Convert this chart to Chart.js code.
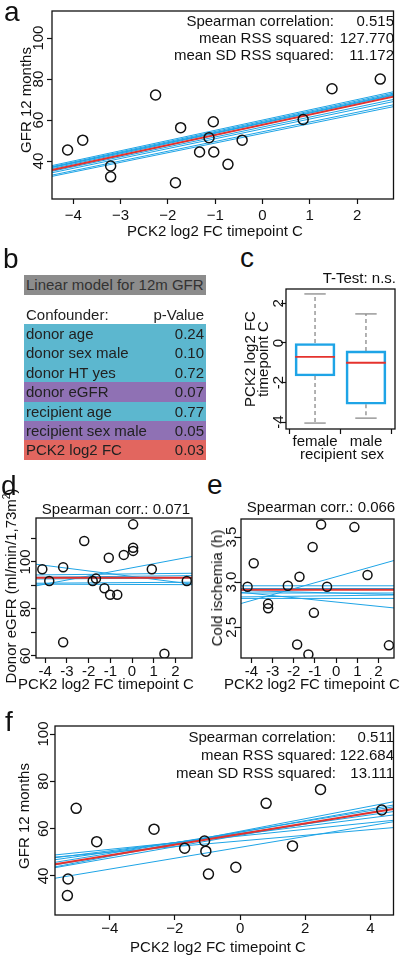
<!DOCTYPE html>
<html lang="en">
<head>
<meta charset="UTF-8">
<title>PCK2 log2 FC and graft function</title>
<script src="https://cdn.jsdelivr.net/npm/chart.js"></script>
<style>
  body {
    margin: 0;
    width: 400px;
    height: 956px;
    position: relative;
    overflow: hidden;
    background: #fff;
    font-family: "Liberation Sans", Arial, sans-serif;
    font-size: 15px;
    color: #111;
  }
  canvas, .t, .cell { position: absolute; }
  .t { white-space: nowrap; line-height: 18px; }
  .panel { font-size: 28px; line-height: 28px; }
  .cell { box-sizing: border-box; padding: 0 2px; line-height: 19px; color: #222; white-space: nowrap; }
  .cell span { float: right; }
</style>
</head>
<body>
<canvas id="chartA"></canvas>
<canvas id="chartC"></canvas>
<canvas id="chartD"></canvas>
<canvas id="chartE"></canvas>
<canvas id="chartF"></canvas>

<script>
// ---- panel a: GFR 12 months vs PCK2 log2 FC ----
var aX = [-4.12, -3.80, -3.21, -3.21, -2.26, -1.84, -1.73, -1.33, -1.13, -1.04, -1.03, -0.73, -0.43, 0.86, 1.47, 2.49];
var aY = [45.4, 50.2, 37.6, 32.3, 72.2, 29.4, 56.3, 44.4, 51.4, 59.2, 44.4, 38.4, 50.2, 60.3, 75.3, 80.0];
var aFit = [57.7, 4.96];               // intercept, slope
var aCvIntercepts = [60.0, 59.4, 58.9, 58.5, 57.7, 55.7, 54.3, 53.5, 58.6, 56.6];
var aCvSlopes = [4.99, 4.97, 4.96, 4.99, 4.99, 4.81, 4.75, 4.71, 4.85, 4.85];
var aStatNames = ['Spearman correlation:', 'mean RSS squared:', 'mean SD RSS squared:'];
var aStatValues = ['0.515', '127.770', '11.172'];
var aXTicks = [-4, -3, -2, -1, 0, 1, 2];
var aXLabels = ['\u22124', '\u22123', '\u22122', '\u22121', '0', '1', '2'];
var aYTicks = [40, 60, 80, 100];
var aYLabels = ['40', '60', '80', '100'];

// ---- panel b: linear model table ----
var bConfounders = ['donor age', 'donor sex male', 'donor HT yes', 'donor eGFR', 'recipient age', 'recipient sex male', 'PCK2 log2 FC'];
var bPValues = ['0.24', '0.10', '0.72', '0.07', '0.77', '0.05', '0.03'];
var bLevels = ['ns', 'ns', 'ns', 'trend', 'ns', 'trend', 'sig'];

// ---- panel c: boxplot by recipient sex ----
var cGroups = ['female', 'male'];
var cWhiskerLow = [-4.05, -3.80];
var cQ1 = [-1.67, -3.10];
var cMedian = [-0.70, -1.00];
var cQ3 = [0.00, -0.40];
var cWhiskerHigh = [2.48, 1.47];
var cYTicks = [-4, -2, 0, 2];
var cYLabels = ['-4', '-2', '0', '2'];

// ---- panel d: donor eGFR ----
var dX = [-4.13, -3.81, -3.17, -3.17, -2.20, -1.81, -1.66, -1.27, -1.07, -1.01, -0.68, -0.38, 0.05, 0.05, 0.05, 0.91, 1.49, 2.52];
var dY = [96.9, 91.9, 97.7, 65.8, 108.9, 91.9, 92.9, 88.8, 101.8, 86.0, 86.0, 103.0, 116.0, 106.0, 104.7, 96.9, 60.9, 91.9];
var dFit = [93.3, 0];
var dCvIntercepts = [93.8, 97.5, 94.9, 93.9, 93.0, 91.2, 90.4];
var dCvSlopes = [-1.18, 1.74, 0.10, 0.10, 0.06, 0.06, -0.03];
var dYTicks = [60, 70, 80, 90, 100, 110];
var dYLabels = ['60', '', '80', '', '100', ''];

// ---- panel e: cold ischemia ----
var eX = [-4.18, -3.89, -3.21, -3.21, -2.28, -1.84, -1.73, -1.31, -1.11, -1.05, -0.71, -0.43, 0.86, 1.48, 2.49];
var eY = [2.95, 3.21, 2.76, 2.71, 2.96, 2.31, 3.06, 2.20, 3.39, 2.66, 3.64, 2.95, 3.61, 3.08, 2.30];
var eFit = [2.915, 0];
var eCvIntercepts = [3.06, 2.78, 2.96, 2.93, 2.88, 2.85, 2.82, 2.88];
var eCvSlopes = [0.066, -0.024, 0, 0, 0, 0.003, 0, -0.006];
var eYTicks = [2.5, 3.0, 3.5];
var eYLabels = ['2.5', '3.0', '3.5'];

// shared x ticks for d and e
var deXTicks = [-4, -3, -2, -1, 0, 1, 2];
var deXLabels = ['-4', '-3', '-2', '-1', '0', '1', '2'];

// ---- panel f: GFR 12 months, second cohort ----
var fX = [-5.30, -5.28, -5.03, -4.40, -2.64, -1.70, -1.09, -1.05, -0.97, -0.13, 0.80, 1.61, 2.47, 4.35];
var fY = [31.7, 38.7, 68.6, 54.5, 59.8, 51.7, 54.8, 50.5, 40.8, 43.7, 70.7, 52.7, 76.6, 67.9];
var fFit = [57.7, 2.25];
var fCvIntercepts = [56.9, 54.8, 57.6, 58.0, 58.6, 58.5, 58.9, 57.2, 52.1];
var fCvSlopes = [1.41, 1.20, 1.74, 1.96, 2.26, 2.44, 2.65, 2.41, 2.30];
var fStatValues = ['0.511', '122.684', '13.111'];
var fXTicks = [-4, -2, 0, 2, 4];
var fXLabels = ['\u22124', '\u22122', '0', '2', '4'];

var INK = '#111';
var BLUE = '#1ea4e6';
var RED = '#e5322d';
var GREY = '#8a8a8a';
var LEVEL_COLORS = { ns: '#5cb7cf', trend: '#8f71b4', sig: '#e2665f' };
var FONT = '"Liberation Sans", Arial, sans-serif';

Chart.defaults.font.family = FONT;
Chart.defaults.font.size = 15;
Chart.defaults.color = INK;
Chart.defaults.animation = false;

// box around the plot region (R style)
var framePlugin = {
    id: 'frame',
    afterDraw: function(chart) {
        var a = chart.chartArea, ctx = chart.ctx;
        ctx.save();
        ctx.strokeStyle = INK;
        ctx.lineWidth = 1.3;
        ctx.strokeRect(a.left, a.top, a.right - a.left, a.bottom - a.top);
        ctx.restore();
    }
};

// y tick labels rotated parallel to the axis
var yTickPlugin = {
    id: 'yTicks',
    afterDraw: function(chart, args, opts) {
        var s = chart.scales.y, ctx = chart.ctx;
        ctx.save();
        ctx.font = '15px ' + FONT;
        ctx.fillStyle = INK;
        ctx.textAlign = 'center';
        ctx.textBaseline = 'middle';
        s.ticks.forEach(function(t, i) {
            var lab = opts.labels[i];
            if (!lab) return;
            ctx.save();
            ctx.translate(chart.chartArea.left - opts.gap, s.getPixelForValue(t.value));
            ctx.rotate(-Math.PI / 2);
            ctx.fillText(lab, 0, 0);
            ctx.restore();
        });
        ctx.restore();
    }
};

function placeCanvas(id, pos) {
    var cv = document.getElementById(id);
    cv.width = pos.w;
    cv.height = pos.h;
    cv.style.left = pos.x + 'px';
    cv.style.top = pos.y + 'px';
    cv.style.width = pos.w + 'px';
    cv.style.height = pos.h + 'px';
    return cv;
}

function axes(pos, box, o) {
    return {
        x: {
            type: 'linear', min: o.xMin, max: o.xMax, offset: false,
            afterBuildTicks: function(s) { s.ticks = o.xTicks.map(function(v) { return {value: v}; }); },
            afterFit: function(s) { s.height = pos.y + pos.h - box.b; },
            ticks: {
                autoSkip: false, maxRotation: 0, padding: o.xTickPad, color: INK,
                callback: function(v, i) { return o.xLabels[i]; }
            },
            grid: { drawOnChartArea: false, tickLength: 5, color: INK, tickColor: INK, tickWidth: 1.2 },
            border: { display: false }
        },
        y: {
            type: 'linear', min: o.yMin, max: o.yMax, beginAtZero: false,
            afterBuildTicks: function(s) { s.ticks = o.yTicks.map(function(v) { return {value: v}; }); },
            afterFit: function(s) { s.width = box.l - pos.x; },
            ticks: { display: false },
            grid: { drawOnChartArea: false, tickLength: 5, color: INK, tickColor: INK, tickWidth: 1.2 },
            border: { display: false }
        }
    };
}

function layoutFor(pos, box) {
    return { padding: { left: 0, top: box.t - pos.y, right: pos.x + pos.w - box.r, bottom: 0 } };
}

function fitLine(ic, sl, o, color, width) {
    return {
        type: 'scatter', showLine: true,
        data: [{x: o.xMin, y: ic + sl * o.xMin}, {x: o.xMax, y: ic + sl * o.xMax}],
        borderColor: color, borderWidth: width, pointRadius: 0, fill: false
    };
}

function scatterPanel(id, pos, box, o) {
    var cv = placeCanvas(id, pos);
    var datasets = [];
    var pts = o.xs.map(function(x, i) { return {x: x, y: o.ys[i]}; });
    datasets.push({
        type: 'scatter', data: pts, order: 0,
        pointStyle: 'circle', pointRadius: o.r, pointBorderWidth: 1.5,
        pointBorderColor: INK, pointBackgroundColor: 'rgba(0,0,0,0)'
    });
    var red = fitLine(o.fit[0], o.fit[1], o, RED, 2);
    red.order = 1;
    datasets.push(red);
    o.cvI.forEach(function(ic, i) {
        var d = fitLine(ic, o.cvS[i], o, BLUE, 1);
        d.order = 2;
        datasets.push(d);
    });
    return new Chart(cv, {
        type: 'scatter',
        data: { datasets: datasets },
        options: {
            responsive: false,
            layout: layoutFor(pos, box),
            plugins: { legend: { display: false }, tooltip: { enabled: false },
                       yTicks: { labels: o.yLabels, gap: o.gap } },
            scales: axes(pos, box, o)
        },
        plugins: [framePlugin, yTickPlugin]
    });
}

// panel a
scatterPanel('chartA', {x: 0, y: 0, w: 400, h: 240}, {l: 52, t: 11, r: 396, b: 199}, {
    xs: aX, ys: aY, fit: aFit, cvI: aCvIntercepts, cvS: aCvSlopes, r: 5,
    xMin: -4.45, xMax: 2.77, yMin: 21.5, yMax: 113.2,
    xTicks: aXTicks, xLabels: aXLabels, yTicks: aYTicks, yLabels: aYLabels,
    xTickPad: 3, gap: 13
});

// panel d
scatterPanel('chartD', {x: 0, y: 505, w: 200, h: 180}, {l: 36, t: 518, r: 192, b: 658}, {
    xs: dX, ys: dY, fit: dFit, cvI: dCvIntercepts, cvS: dCvSlopes, r: 4.5,
    xMin: -4.42, xMax: 2.76, yMin: 59.1, yMax: 118.7,
    xTicks: deXTicks, xLabels: deXLabels, yTicks: dYTicks, yLabels: dYLabels,
    xTickPad: 0, gap: 10
});

// panel e
scatterPanel('chartE', {x: 200, y: 505, w: 200, h: 180}, {l: 241, t: 519, r: 397, b: 658}, {
    xs: eX, ys: eY, fit: eFit, cvI: eCvIntercepts, cvS: eCvSlopes, r: 4.5,
    xMin: -4.49, xMax: 2.73, yMin: 2.16, yMax: 3.70,
    xTicks: deXTicks, xLabels: deXLabels, yTicks: eYTicks, yLabels: eYLabels,
    xTickPad: 0, gap: 9
});

// panel f
scatterPanel('chartF', {x: 0, y: 715, w: 400, h: 230}, {l: 55, t: 726, r: 397, b: 915}, {
    xs: fX, ys: fY, fit: fFit, cvI: fCvIntercepts, cvS: fCvSlopes, r: 5,
    xMin: -5.68, xMax: 4.71, yMin: 23.5, yMax: 103.4,
    xTicks: fXTicks, xLabels: fXLabels, yTicks: aYTicks, yLabels: aYLabels,
    xTickPad: 0, gap: 11
});

// panel c: boxplot
(function() {
    var pos = {x: 230, y: 280, w: 170, h: 180};
    var box = {l: 286, t: 289, r: 395, b: 429};
    var o = {
        xMin: 0.43, xMax: 2.57, yMin: -4.35, yMax: 2.73,
        xTicks: [1, 2], xLabels: cGroups, yTicks: cYTicks, xTickPad: -1
    };
    var BOX_HALF = 0.39, CAP_HALF = 0.21;
    var cv = placeCanvas('chartC', pos);
    var datasets = [{
        type: 'bar', order: 2,
        data: cGroups.map(function(g, i) { return {x: i + 1, y: [cQ1[i], cQ3[i]]}; }),
        backgroundColor: 'rgba(0,0,0,0)', borderColor: BLUE, borderWidth: 2,
        borderSkipped: false, barThickness: 40
    }];
    function seg(pts, color, dash, width) {
        return { type: 'scatter', showLine: true, data: pts, order: 1,
                 borderColor: color, borderWidth: width, borderDash: dash, pointRadius: 0 };
    }
    cGroups.forEach(function(g, i) {
        var x = i + 1;
        datasets.push(seg([{x: x, y: cQ3[i]}, {x: x, y: cWhiskerHigh[i]}], GREY, [4, 3], 1.3));
        datasets.push(seg([{x: x, y: cQ1[i]}, {x: x, y: cWhiskerLow[i]}], GREY, [4, 3], 1.3));
        datasets.push(seg([{x: x - CAP_HALF, y: cWhiskerHigh[i]}, {x: x + CAP_HALF, y: cWhiskerHigh[i]}], GREY, [], 1.3));
        datasets.push(seg([{x: x - CAP_HALF, y: cWhiskerLow[i]}, {x: x + CAP_HALF, y: cWhiskerLow[i]}], GREY, [], 1.3));
        var med = seg([{x: x - BOX_HALF, y: cMedian[i]}, {x: x + BOX_HALF, y: cMedian[i]}], RED, [], 1.8);
        med.order = 0;
        datasets.push(med);
    });
    new Chart(cv, {
        type: 'scatter',
        data: { datasets: datasets },
        options: {
            responsive: false,
            layout: layoutFor(pos, box),
            plugins: { legend: { display: false }, tooltip: { enabled: false },
                       yTicks: { labels: cYLabels, gap: 7 } },
            scales: axes(pos, box, o)
        },
        plugins: [framePlugin, yTickPlugin]
    });
})();

// ---- text: panel letters, titles, axis titles ----
function addText(str, x, y, align, extra) {
    var d = document.createElement('div');
    d.className = 't' + (extra ? ' ' + extra : '');
    d.innerHTML = str;
    d.style.left = x + 'px';
    d.style.top = y + 'px';
    var tr = { c: 'translate(-50%,-50%)', r: 'translate(-100%,-50%)', l: 'translate(0,-50%)',
               v: 'translate(-50%,-50%) rotate(-90deg)' };
    d.style.transform = tr[align];
    document.body.appendChild(d);
    return d;
}

addText('a', 4, 12, 'l', 'panel');
addText('b', 3, 259, 'l', 'panel');
addText('c', 240, 258, 'l', 'panel');
addText('d', 1, 486, 'l', 'panel');
addText('e', 207, 485, 'l', 'panel');
addText('f', 5, 722, 'l', 'panel');

// panel a texts
[21, 38, 55].forEach(function(y, i) {
    addText(aStatNames[i], 334, y, 'r');
    addText(aStatValues[i], 394, y, 'r');
});
addText('GFR 12 months', 26, 100, 'v');
addText('PCK2 log2 FC timepoint C', 215, 231, 'c');

// panel c texts
addText('T-Test: n.s.', 396, 278, 'r');
var cTitle = addText('PCK2 log2 FC<br>timepoint C', 256, 359, 'v');
cTitle.style.lineHeight = '13px';
cTitle.style.textAlign = 'center';
addText('recipient sex', 342, 454, 'c');

// panel d texts
addText('Spearman corr.: 0.071', 116, 509, 'c');
addText('Donor eGFR (ml/min/1,73m<sup style="font-size:10px;line-height:0">2</sup>)', 11, 586, 'v');
addText('PCK2 log2 FC timepoint C', 106, 684, 'c');

// panel e texts
addText('Spearman corr.: 0.066', 321, 507, 'c');
addText('Cold ischemia (h)', 217, 588, 'v');
addText('PCK2 log2 FC timepoint C', 312, 684, 'c');

// panel f texts
[737, 755, 773].forEach(function(y, i) {
    addText(aStatNames[i], 336, y, 'r');
    addText(fStatValues[i], 394, y, 'r');
});
addText('GFR 12 months', 24, 816, 'v');
addText('PCK2 log2 FC timepoint C', 218, 947, 'c');

// ---- panel b table ----
(function() {
    var head = document.createElement('div');
    head.className = 'cell';
    head.style.cssText = 'left:24px;top:275px;width:182px;height:20px;line-height:20px;background:#8c8c8c;color:#333;';
    head.textContent = 'Linear model for 12m GFR';
    document.body.appendChild(head);

    var cap = document.createElement('div');
    cap.className = 'cell';
    cap.style.cssText = 'left:24px;top:305px;width:182px;height:19px;';
    cap.innerHTML = 'Confounder:<span>p-Value</span>';
    document.body.appendChild(cap);

    bConfounders.forEach(function(name, i) {
        var r = document.createElement('div');
        r.className = 'cell';
        r.style.left = '24px';
        r.style.top = (324 + i * 19.4) + 'px';
        r.style.width = '182px';
        r.style.height = '19.4px';
        r.style.background = LEVEL_COLORS[bLevels[i]];
        r.innerHTML = name + '<span>' + bPValues[i] + '</span>';
        document.body.appendChild(r);
    });
})();
</script>
</body>
</html>
